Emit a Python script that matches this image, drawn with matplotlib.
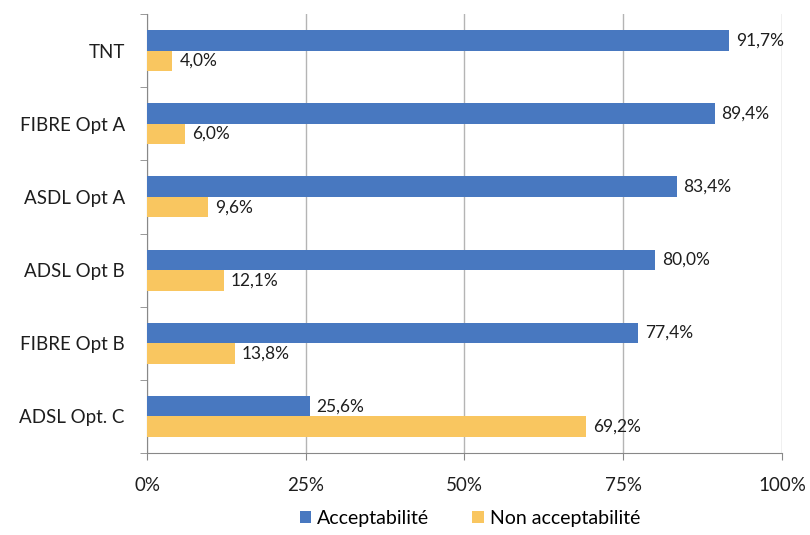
import matplotlib.pyplot as plt
import numpy as np

plt.rcParams['font.family'] = ['Lato', 'DejaVu Sans']

categories = ['TNT', 'FIBRE Opt A', 'ASDL Opt A', 'ADSL Opt B', 'FIBRE Opt B', 'ADSL Opt. C']
acceptabilite = [91.7, 89.4, 83.4, 80.0, 77.4, 25.6]
non_acceptabilite = [4.0, 6.0, 9.6, 12.1, 13.8, 69.2]
series_names = ['Acceptabilité', 'Non acceptabilité']
x_ticks = [0, 25, 50, 75, 100]

blue = '#4878c0'
yellow = '#f9c660'
txt = '#1e1e1e'

fig = plt.figure(figsize=(8.1, 5.35), dpi=100)
ax = fig.add_axes([0.1815, 0.1533, 0.7839, 0.8205])

n = len(categories)
pos = np.arange(n)[::-1]
h = 0.28
ax.barh(pos + h / 2, acceptabilite, height=h, color=blue, label=series_names[0], zorder=3)
ax.barh(pos - h / 2, non_acceptabilite, height=h, color=yellow, label=series_names[1], zorder=3)

for p, v in zip(pos, acceptabilite):
    ax.annotate(f'{v:.1f}%'.replace('.', ','), (v, p + h / 2), xytext=(5, 0),
                textcoords='offset points', va='center', ha='left', fontsize=12.5, color=txt)
for p, v in zip(pos, non_acceptabilite):
    ax.annotate(f'{v:.1f}%'.replace('.', ','), (v, p - h / 2), xytext=(5, 0),
                textcoords='offset points', va='center', ha='left', fontsize=12.5, color=txt)

ax.set_xlim(0, 100)
ax.set_ylim(-0.5, n - 0.5)
ax.set_xticks(x_ticks)
ax.set_xticklabels([f'{t}%' for t in x_ticks], fontsize=13.5, color=txt)
ax.set_yticks(pos)
ax.set_yticklabels(categories, fontsize=13.5, color=txt)
ax.set_yticks(np.arange(n + 1) - 0.5, minor=True)
ax.tick_params(axis='y', which='major', length=0, pad=16)
ax.tick_params(axis='y', which='minor', length=5, color='#888888')
ax.tick_params(axis='x', length=5, color='#888888', pad=12)

ax.grid(axis='x', color='#b4b4b4', linewidth=1, zorder=0)
for s in ['top', 'right']:
    ax.spines[s].set_visible(False)
ax.spines['left'].set_color('#888888')
ax.spines['bottom'].set_color('#888888')

fig.legend(loc='lower center', bbox_to_anchor=(0.58, -0.018), ncol=2, frameon=False,
           fontsize=14, handlelength=0.6, handleheight=0.6, columnspacing=2.2, handletextpad=0.3)

fig.savefig('out.png', dpi=100)
